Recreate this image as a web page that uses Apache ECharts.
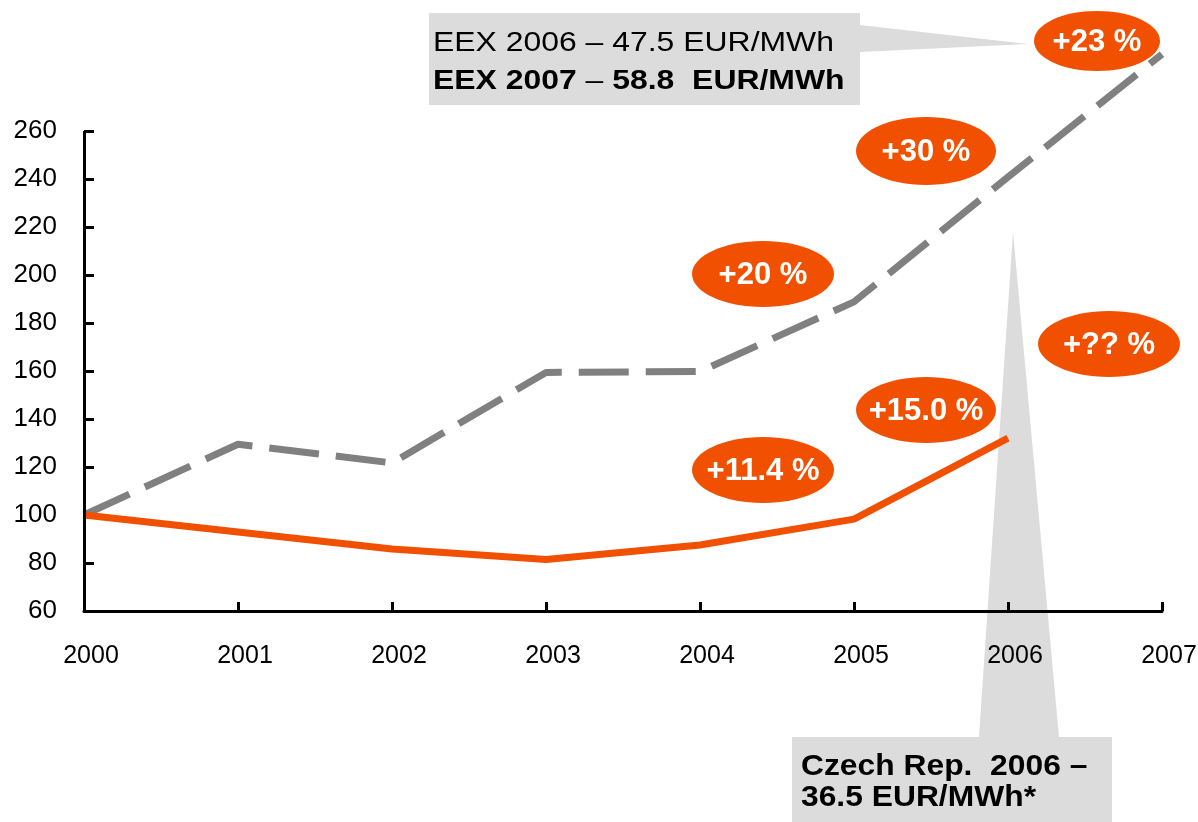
<!DOCTYPE html>
<html>
<head>
<meta charset="utf-8">
<script src="https://cdn.jsdelivr.net/npm/echarts@6/dist/echarts.min.js"></script>
<style>
html,body{margin:0;padding:0;background:#fff;}
#chart{width:1198px;height:822px;}
</style>
</head>
<body>
<div id="chart"></div>
<script>
const years = ['2000','2001','2002','2003','2004','2005','2006','2007'];
const eexIndex = [100, 129.5, 121.7, 159.4, 159.8, 188.8, 240.8, 292];
const czIndex = [100, 92.9, 85.8, 81.5, 87.5, 98.3, 132, null];
const yTicks = [60, 80, 100, 120, 140, 160, 180, 200, 220, 240, 260];
const growthLabels = ['+23 %', '+30 %', '+20 %', '+11.4 %', '+15.0 %', '+?? %'];
const topNoteLine1 = 'EEX 2006 – 47.5 EUR/MWh';
const topNoteLine2 = '{b|EEX 2007} – {b|58.8  EUR/MWh}';
const bottomNoteLine1 = 'Czech Rep.  2006 –';
const bottomNoteLine2 = '36.5 EUR/MWh*';

const ORANGE = '#F05000';
const GRAY = '#808080';
const BOX = '#DCDCDC';
const FONT = 'Liberation Sans, Arial, sans-serif';

const ellipsePos = [
  [1097, 41, 63, 30],
  [926, 151, 70, 34],
  [763, 274, 71, 33],
  [763, 470, 71, 33],
  [926, 410, 70, 33],
  [1109, 344, 71, 33]
];

const graphics = [];
graphics.push({type:'polygon', z:-5, shape:{points:[[860,25],[860,52],[1028,44]]}, style:{fill:BOX}});
graphics.push({type:'rect', z:-5, shape:{x:429,y:13,width:431,height:92}, style:{fill:BOX}});
graphics.push({type:'polygon', z:-5, shape:{points:[[979,737],[1059,737],[1013,232]]}, style:{fill:BOX}});
graphics.push({type:'rect', z:-5, shape:{x:792,y:737,width:320,height:90}, style:{fill:BOX}});
graphics.push({type:'text', z:50, x:433, y:43, scaleX:1.14,
  style:{text:topNoteLine1, fontSize:28, fontFamily:FONT, fill:'#000', textAlign:'left', textVerticalAlign:'middle'}});
graphics.push({type:'text', z:50, x:433, y:81, scaleX:1.14,
  style:{text:topNoteLine2, fontSize:28, fontFamily:FONT, fill:'#000', textAlign:'left', textVerticalAlign:'middle',
    rich:{b:{fontSize:28, fontFamily:FONT, fontWeight:'bold', fill:'#000'}}}});
graphics.push({type:'text', z:50, x:801, y:767, scaleX:1.06,
  style:{text:bottomNoteLine1, fontSize:30, fontWeight:'bold', fontFamily:FONT, fill:'#000', textAlign:'left', textVerticalAlign:'middle'}});
graphics.push({type:'text', z:50, x:801, y:798, scaleX:1.06,
  style:{text:bottomNoteLine2, fontSize:30, fontWeight:'bold', fontFamily:FONT, fill:'#000', textAlign:'left', textVerticalAlign:'middle'}});
growthLabels.forEach((t, i) => {
  const p = ellipsePos[i];
  graphics.push({type:'ellipse', z:100, shape:{cx:p[0], cy:p[1], rx:p[2], ry:p[3]}, style:{fill:ORANGE}});
  graphics.push({type:'text', z:101, x:p[0], y:p[1]+1,
    style:{text:t, fontSize:31, fontWeight:'bold', fontFamily:FONT, fill:'#fff', textAlign:'center', textVerticalAlign:'middle'}});
});

const chart = echarts.init(document.getElementById('chart'), null, {renderer:'canvas'});
chart.setOption({
  animation:false,
  backgroundColor:'#fff',
  grid:{left:84, right:36, top:35, bottom:211, containLabel:false, outerBoundsMode:'none'},
  xAxis:{
    type:'category', data:years, boundaryGap:false,
    axisLine:{show:true, lineStyle:{color:'#000', width:3}},
    axisTick:{show:true, inside:true, length:9, lineStyle:{color:'#000', width:3}},
    axisLabel:{color:'#000', fontSize:25, fontFamily:FONT, margin:33, showMinLabel:true, showMaxLabel:true, interval:0, padding:[0,0,0,14]},
    splitLine:{show:false}
  },
  yAxis:{
    type:'value', min:60, max:300, interval:20,
    axisLine:{show:false},
    axisTick:{show:true, inside:true, length:10, customValues:yTicks, lineStyle:{color:'#000', width:3}},
    axisLabel:{color:'#000', fontSize:26, fontFamily:FONT, margin:27, customValues:yTicks, padding:[0,0,6,0]},
    splitLine:{show:false}
  },
  series:[
    {
      type:'line', data:eexIndex, symbol:'none', clip:false, z:3,
      lineStyle:{color:GRAY, width:7, type:[50,17], cap:'butt'}
    },
    {
      type:'line', data:czIndex, symbol:'none', clip:false, z:4,
      lineStyle:{color:ORANGE, width:7, cap:'butt'},
      markLine:{
        silent:true, symbol:['none','none'], label:{show:false},
        lineStyle:{color:'#000', width:3, type:'solid'},
        emphasis:{disabled:true},
        data:[[{coord:[0,60]},{coord:[0,260]}]]
      }
    }
  ],
  graphic:{elements:graphics}
});
</script>
</body>
</html>
